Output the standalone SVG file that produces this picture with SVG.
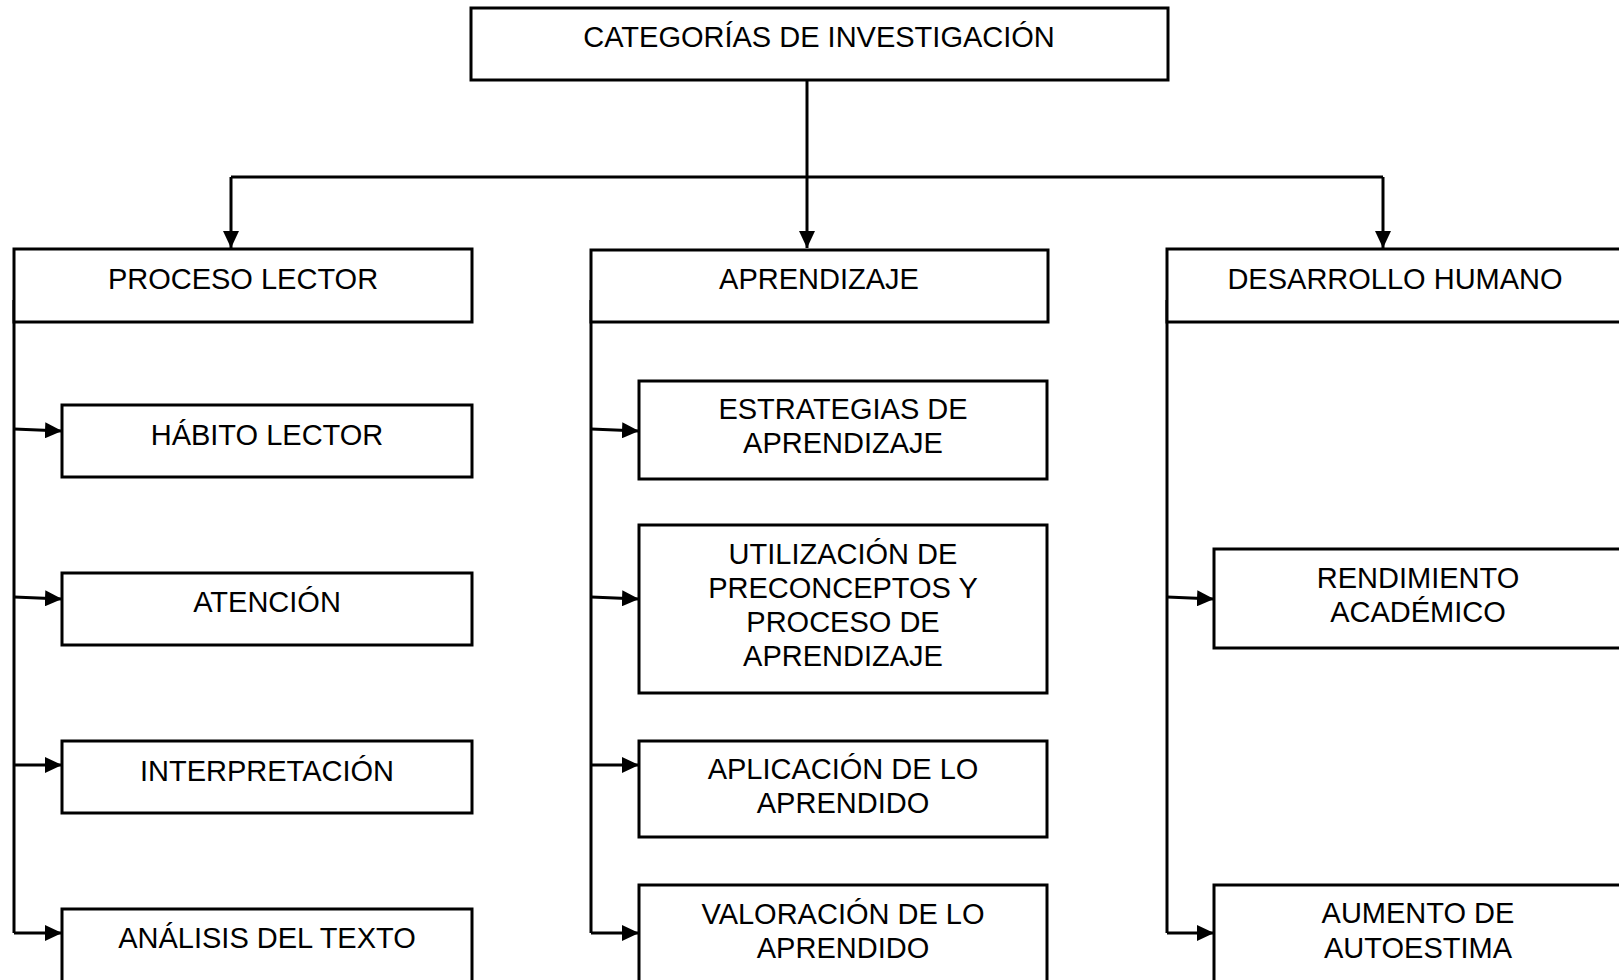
<svg xmlns="http://www.w3.org/2000/svg" width="1619" height="980" viewBox="0 0 1619 980">
<style>
.box{fill:#fff;stroke:#000;stroke-width:3}
.lbl{font-family:"Liberation Sans",Arial,sans-serif;font-size:29px;fill:#000;text-anchor:middle}
.ln{fill:none;stroke:#000;stroke-width:3}
.ar{fill:none;stroke:#000;stroke-width:3;marker-end:url(#ah)}
</style>
<defs>
<marker id="ah" markerUnits="userSpaceOnUse" markerWidth="18" markerHeight="16" refX="17" refY="8" orient="auto">
<path d="M0,0 L17,8 L0,16 z" fill="#000"/>
</marker>
</defs>
<rect width="1619" height="980" fill="#fff"/>
<g id="connectors">
<path class="ar" d="M807,80 V248"/>
<path class="ln" d="M231,177 H1383"/>
<path class="ar" d="M231,177 V248"/>
<path class="ar" d="M1383,177 V248"/>
<path class="ln" d="M14,300 V933"/>
<path class="ln" d="M591,300 V933"/>
<path class="ln" d="M1167,300 V933"/>
<path class="ar" d="M14,429 L62,431"/>
<path class="ar" d="M14,597 L62,599"/>
<path class="ar" d="M14,765 H62"/>
<path class="ar" d="M14,933 H62"/>
<path class="ar" d="M591,429 L639,431"/>
<path class="ar" d="M591,597 L639,599"/>
<path class="ar" d="M591,765 H639"/>
<path class="ar" d="M591,933 H639"/>
<path class="ar" d="M1167,597 L1214,599"/>
<path class="ar" d="M1167,933 H1214"/>
</g>
<g id="n-categorias"><rect class="box" x="471" y="8" width="697" height="72"/><text class="lbl" x="819" y="47">CATEGORÍAS DE INVESTIGACIÓN</text></g>
<g id="n-proceso"><rect class="box" x="14" y="249" width="458" height="73"/><text class="lbl" x="243" y="289">PROCESO LECTOR</text></g>
<g id="n-aprendizaje"><rect class="box" x="591" y="250" width="457" height="72"/><text class="lbl" x="819" y="289">APRENDIZAJE</text></g>
<g id="n-desarrollo"><rect class="box" x="1167" y="249" width="457" height="73"/><text class="lbl" x="1395" y="289">DESARROLLO HUMANO</text></g>
<g id="n-habito"><rect class="box" x="62" y="405" width="410" height="72"/><text class="lbl" x="267" y="445">HÁBITO LECTOR</text></g>
<g id="n-atencion"><rect class="box" x="62" y="573" width="410" height="72"/><text class="lbl" x="267" y="612">ATENCIÓN</text></g>
<g id="n-interpretacion"><rect class="box" x="62" y="741" width="410" height="72"/><text class="lbl" x="267" y="781">INTERPRETACIÓN</text></g>
<g id="n-analisis"><rect class="box" x="62" y="909" width="410" height="80"/><text class="lbl" x="267" y="948">ANÁLISIS DEL TEXTO</text></g>
<g id="n-estrategias"><rect class="box" x="639" y="381" width="408" height="98"/><text class="lbl" x="843" y="419">ESTRATEGIAS DE</text><text class="lbl" x="843" y="453">APRENDIZAJE</text></g>
<g id="n-utilizacion"><rect class="box" x="639" y="525" width="408" height="168"/><text class="lbl" x="843" y="564">UTILIZACIÓN DE</text><text class="lbl" x="843" y="598">PRECONCEPTOS Y</text><text class="lbl" x="843" y="632">PROCESO DE</text><text class="lbl" x="843" y="666">APRENDIZAJE</text></g>
<g id="n-aplicacion"><rect class="box" x="639" y="741" width="408" height="96"/><text class="lbl" x="843" y="779">APLICACIÓN DE LO</text><text class="lbl" x="843" y="813">APRENDIDO</text></g>
<g id="n-valoracion"><rect class="box" x="639" y="885" width="408" height="110"/><text class="lbl" x="843" y="924">VALORACIÓN DE LO</text><text class="lbl" x="843" y="958">APRENDIDO</text></g>
<g id="n-rendimiento"><rect class="box" x="1214" y="549" width="410" height="99"/><text class="lbl" x="1418" y="588">RENDIMIENTO</text><text class="lbl" x="1418" y="622">ACADÉMICO</text></g>
<g id="n-autoestima"><rect class="box" x="1214" y="885" width="410" height="110"/><text class="lbl" x="1418" y="923">AUMENTO DE</text><text class="lbl" x="1418" y="958">AUTOESTIMA</text></g>
</svg>
